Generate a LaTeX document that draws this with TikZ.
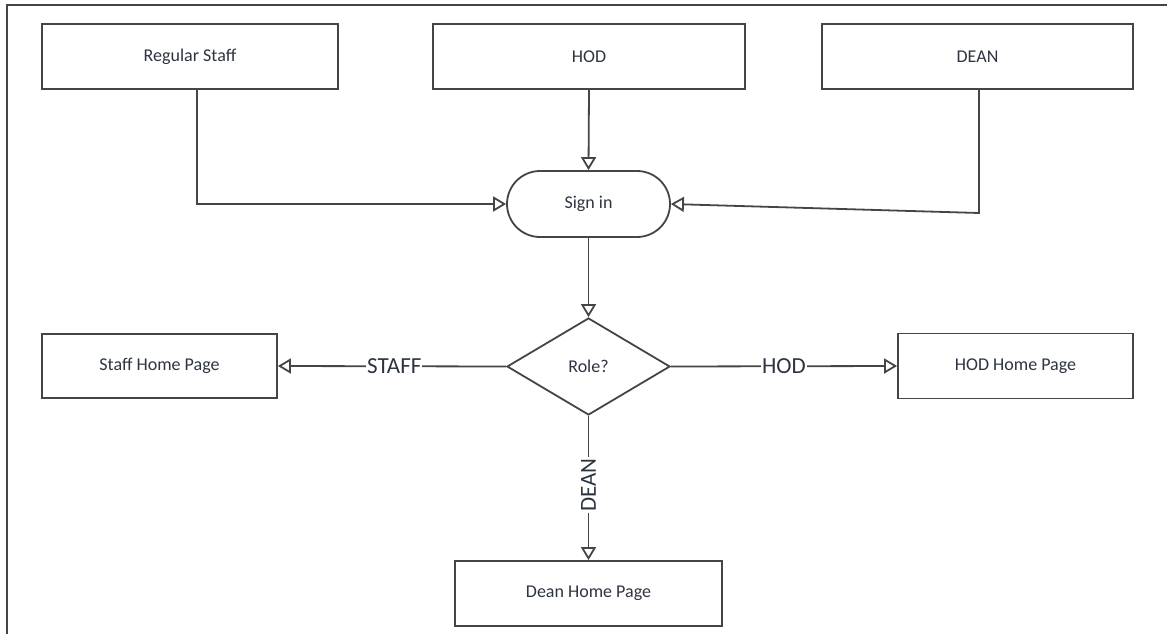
\documentclass[tikz,border=0pt]{standalone}
\usepackage{fontspec}
\setmainfont{Carlito}
\usetikzlibrary{arrows.meta,shapes.geometric,shapes.misc}
\definecolor{linec}{HTML}{454545}
\definecolor{textc}{HTML}{2E3440}
\begin{document}
\begin{tikzpicture}[x=1pt,y=-1pt,
  box/.style={draw=linec,line width=1.8pt,fill=white,inner sep=0pt,minimum height=65pt,font=\fontsize{18}{20}\selectfont,text=textc},
  stadium/.style={box,rounded rectangle,minimum width=163pt,minimum height=66pt},
  decision/.style={box,diamond,minimum width=163pt,minimum height=97pt},
  conn/.style={draw=linec,line width=1.8pt,-{Triangle[open,length=13pt,width=15pt]}},
  lbl/.style={fill=white,inner sep=1pt,text=textc,font=\fontsize{23}{25}\selectfont}]
\useasboundingbox (0,0) rectangle (1167,634);
\draw[linec,line width=1.6pt] (1167,5) -- (7,5) -- (7,634);

\node[box,minimum width=296pt] (rs) at (190,56.5) {Regular Staff};
\node[box,minimum width=312pt] (hod) at (589,56.5) {HOD};
\node[box,minimum width=311pt] (dean) at (977.5,56.5) {DEAN};
\node[stadium] (signin) at (588.5,204) {Sign in};
\node[decision] (role) at (588.5,366.5) {Role?};
\node[box,minimum width=235pt,minimum height=64pt] (shp) at (159.5,366) {Staff Home Page};
\node[box,minimum width=235pt] (hhp) at (1015.5,366) {HOD Home Page};
\node[box,minimum width=267pt] (dhp) at (588.5,593.5) {Dean Home Page};

\coordinate (dk) at (979,213);
\draw[conn] ([xshift=7pt]rs.south) |- (signin.west);
\draw[conn] (hod.south) -- (signin.north);
\draw[conn] (dean.south -| dk) -- (dk) -- (signin.east);
\draw[conn] (signin.south) -- (role.north);
\draw[conn] (role.west) -- node[lbl,pos=0.49] {STAFF} (shp.east);
\draw[conn] (role.east) -- node[lbl,pos=0.5] {HOD} (hhp.west);
\draw[conn] (role.south) -- node[lbl,pos=0.48,rotate=90] {DEAN} (dhp.north);
\end{tikzpicture}
\end{document}
